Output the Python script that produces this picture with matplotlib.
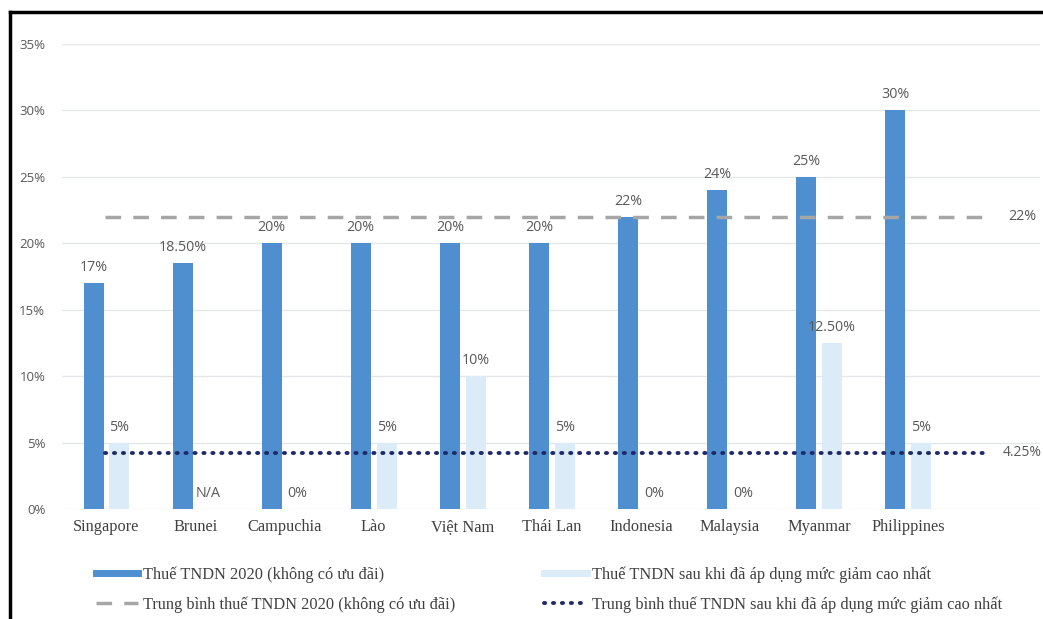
import numpy as np
import matplotlib
matplotlib.use('Agg')
import matplotlib.pyplot as plt
from matplotlib.lines import Line2D

# Dữ liệu thuế TNDN các nước ASEAN
quoc_gia = ['Singapore', 'Brunei', 'Campuchia', 'Lào', 'Việt Nam', 'Thái Lan',
            'Indonesia', 'Malaysia', 'Myanmar', 'Philippines']
thue_2020 = [17, 18.5, 20, 20, 20, 20, 22, 24, 25, 30]
thue_giam = [5, 0, 0, 5, 10, 5, 0, 0, 12.5, 5]
nhan_2020 = ['17%', '18.50%', '20%', '20%', '20%', '20%', '22%', '24%', '25%', '30%']
nhan_giam = ['5%', 'N/A', '0%', '5%', '10%', '5%', '0%', '0%', '12.50%', '5%']
tb_2020 = 22
tb_giam = 4.25
nhan_tb_2020 = '22%'
nhan_tb_giam = '4.25%'
y_ticks = [0, 5, 10, 15, 20, 25, 30, 35]

mau_dam = '#4f8fd0'
mau_nhat = '#dcebf8'
mau_xam = '#a6a6a6'
mau_cham = '#1f2a66'
mau_chu = '#595959'

fig = plt.figure(figsize=(10.43, 6.19), dpi=100)
ax = fig.add_axes([0.0594, 0.1777, 0.9376, 0.7513])

x = np.arange(len(quoc_gia))
w = 0.225
ax.bar(x - 0.145, thue_2020, w, color=mau_dam, zorder=3)
ax.bar(x + 0.145, thue_giam, w, color=mau_nhat, zorder=3)

# Nhãn giá trị trên cột
for i in range(len(x)):
    ax.text(x[i] - 0.145, thue_2020[i] + 0.6, nhan_2020[i], ha='center', va='bottom',
            fontsize=10.3, color=mau_chu, family='Open Sans')
    ax.text(x[i] + 0.145, thue_giam[i] + 0.6, nhan_giam[i], ha='center', va='bottom',
            fontsize=10.3, color=mau_chu, family='Open Sans')

# Đường trung bình
ax.plot([-0.02, 9.92], [tb_2020, tb_2020], color=mau_xam, lw=2.5,
        dashes=(4.5, 3.5), zorder=4)
ax.plot([-0.02, 9.92], [tb_giam, tb_giam], color=mau_cham, lw=2.8,
        linestyle=(0, (0.3, 2.0)), dash_capstyle='round', zorder=4)
ax.text(10.12, tb_2020, nhan_tb_2020, ha='left', va='center', fontsize=10.3,
        color=mau_chu, family='Open Sans')
ax.text(10.06, tb_giam, nhan_tb_giam, ha='left', va='center', fontsize=10,
        color=mau_chu, family='Open Sans', clip_on=False)

ax.set_xlim(-0.5, 10.48)
ax.set_ylim(0, 35)
ax.set_yticks(y_ticks)
ax.set_yticklabels([f'{t}%' for t in y_ticks], family='Open Sans', fontsize=9.5,
                   color=mau_chu)
ax.set_xticks(x)
ax.set_xticklabels(quoc_gia, family='Liberation Serif', fontsize=11.8, color='#404040')
ax.tick_params(length=0, pad=7)
ax.tick_params(axis='y', pad=12)
ax.grid(axis='y', color='#e4e6ea', lw=1, zorder=0)
for s in ax.spines.values():
    s.set_visible(False)

# Khung viền đen phía trên và bên trái
fig.add_artist(Line2D([0.0096, 1.0], [0.981, 0.981], color='black', lw=2.5,
                      transform=fig.transFigure))
fig.add_artist(Line2D([0.0096, 0.0096], [0.0, 0.981], color='black', lw=2.5,
                      transform=fig.transFigure))

handles = [
    Line2D([], [], color=mau_dam, lw=5),
    Line2D([], [], color=mau_xam, lw=2.5, dashes=(4.5, 3.5)),
    Line2D([], [], color=mau_nhat, lw=5),
    Line2D([], [], color=mau_cham, lw=2.8, linestyle=(0, (0.3, 2.0)),
           dash_capstyle='round'),
]
labels = [
    'Thuế TNDN 2020 (không có ưu đãi)',
    'Trung bình thuế TNDN 2020 (không có ưu đãi)',
    'Thuế TNDN sau khi đã áp dụng mức giảm cao nhất',
    'Trung bình thuế TNDN sau khi đã áp dụng mức giảm cao nhất',
]
leg = fig.legend(handles, labels, ncol=2, loc='upper left',
                 bbox_to_anchor=(0.084, 0.098), frameon=False,
                 prop={'family': 'Liberation Serif', 'size': 11.8},
                 handlelength=2.6, handletextpad=0.3, columnspacing=5.4,
                 labelspacing=0.8, borderpad=0)
for t in leg.get_texts():
    t.set_color('#404040')

fig.savefig('out.png', dpi=100)
